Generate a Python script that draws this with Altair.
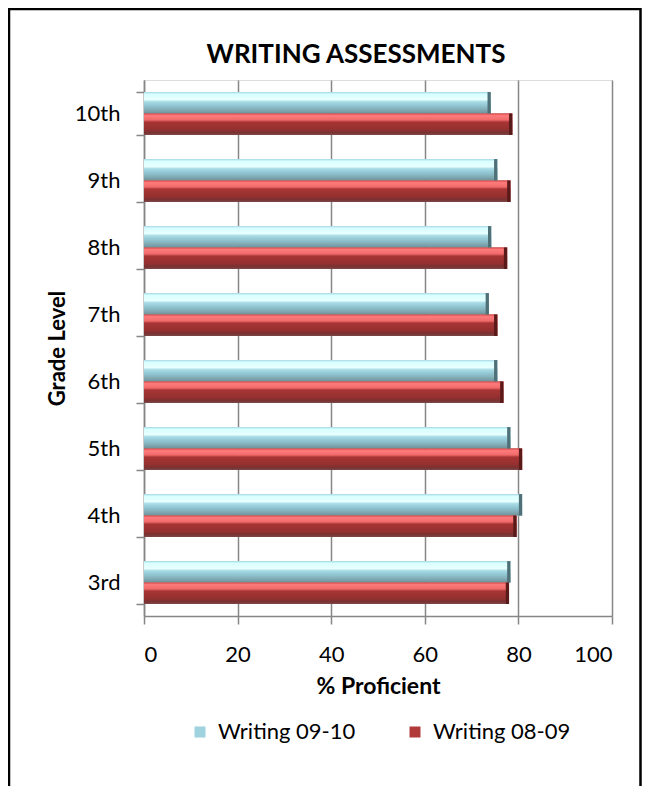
import altair as alt
import pandas as pd

grades = ["10th", "9th", "8th", "7th", "6th", "5th", "4th", "3rd"]
writing_0910 = [74.1, 75.5, 74.2, 73.7, 75.5, 78.3, 80.8, 78.3]
writing_0809 = [78.7, 78.3, 77.6, 75.5, 76.8, 80.8, 79.6, 78.0]
series = ["Writing 09-10", "Writing 08-09"]
x_ticks = [0, 20, 40, 60, 80, 100]
chart_title = "WRITING ASSESSMENTS"

rows = []
for g, a, b in zip(grades, writing_0910, writing_0809):
    rows.append({"grade": g, "series": series[0], "value": a})
    rows.append({"grade": g, "series": series[1], "value": b})
df = pd.DataFrame(rows)

FONT = "Lato"
GRID = "#868686"

blue_grad = alt.Gradient(
    gradient="linear", x1=0, x2=0, y1=0, y2=1,
    stops=[
        alt.GradientStop(offset=0, color="#a6d8e6"),
        alt.GradientStop(offset=0.1, color="#d8ffff"),
        alt.GradientStop(offset=0.35, color="#e8ffff"),
        alt.GradientStop(offset=0.45, color="#a8dce6"),
        alt.GradientStop(offset=0.65, color="#8fc4d0"),
        alt.GradientStop(offset=0.85, color="#7fa8b2"),
        alt.GradientStop(offset=1, color="#6f9098"),
    ],
)
red_grad = alt.Gradient(
    gradient="linear", x1=0, x2=0, y1=0, y2=1,
    stops=[
        alt.GradientStop(offset=0, color="#d84848"),
        alt.GradientStop(offset=0.1, color="#ff7b7b"),
        alt.GradientStop(offset=0.3, color="#f06a6a"),
        alt.GradientStop(offset=0.4, color="#a83434"),
        alt.GradientStop(offset=0.75, color="#943030"),
        alt.GradientStop(offset=0.88, color="#7a3030"),
        alt.GradientStop(offset=1, color="#7a4848"),
    ],
)

y_enc = alt.Y(
    "grade:N",
    sort=grades,
    scale=alt.Scale(paddingInner=0.36, paddingOuter=0.18),
    axis=alt.Axis(
        title="Grade Level",
        titleFont=FONT, titleFontSize=22, titleFontWeight="bold", titleColor="black",
        titlePadding=5,
        labelFont=FONT, labelFontSize=22, labelColor="black", labelPadding=16,
        tickBand="extent", tickColor=GRID, tickSize=8, tickWidth=1.5,
        domainColor=GRID, domainWidth=1.5, grid=False,
    ),
)
x_enc = alt.X(
    "value:Q",
    scale=alt.Scale(domain=[0, 100], nice=False),
    axis=alt.Axis(
        title="% Proficient", values=x_ticks,
        titleFont=FONT, titleFontSize=23, titleFontWeight="bold", titleColor="black",
        titlePadding=10,
        labelFont=FONT, labelFontSize=22, labelColor="black", labelPadding=20,
        tickColor=GRID, tickSize=8, tickWidth=1.5,
        domainColor=GRID, domainWidth=1.5,
        grid=True, gridColor=GRID, gridWidth=1.5,
    ),
)
yoff = alt.YOffset("series:N", sort=series, scale=alt.Scale(domain=series, paddingInner=0, paddingOuter=0))

base = alt.Chart(df).mark_bar().encode(
    x=x_enc, y=y_enc, yOffset=yoff,
    color=alt.Color(
        "series:N",
        scale=alt.Scale(domain=series, range=["#9fd3df", "#b03a3a"]),
        legend=alt.Legend(
            title=None, orient="none", direction="horizontal",
            legendX=45, legendY=641,
            symbolType="square", symbolSize=121, symbolStrokeWidth=0,
            labelFont=FONT, labelFontSize=22, labelColor="black",
            columnPadding=48, labelOffset=7,
        ),
    ),
)

blue = alt.Chart(df).transform_filter(alt.datum.series == series[0]).mark_bar(color=blue_grad).encode(
    x="value:Q", y=alt.Y("grade:N", sort=grades), yOffset=yoff)
red = alt.Chart(df).transform_filter(alt.datum.series == series[1]).mark_bar(color=red_grad).encode(
    x="value:Q", y=alt.Y("grade:N", sort=grades), yOffset=yoff)

cap_b = alt.Chart(df).transform_filter(alt.datum.series == series[0]).transform_calculate(
    xs="datum.value - 0.7").mark_bar(color="#4f7077").encode(
    x="xs:Q", x2="value:Q", y=alt.Y("grade:N", sort=grades), yOffset=yoff)
cap_r = alt.Chart(df).transform_filter(alt.datum.series == series[1]).transform_calculate(
    xs="datum.value - 0.7").mark_bar(color="#5a1a1a").encode(
    x="xs:Q", x2="value:Q", y=alt.Y("grade:N", sort=grades), yOffset=yoff)

title_mark = alt.Chart(alt.Data(values=[{"t": chart_title}])).mark_text(
    font=FONT, fontSize=26, fontWeight="bold", color="black",
    align="center", baseline="alphabetic").encode(
    text="t:N", x=alt.value(212), y=alt.value(-17))

border = alt.Chart(alt.Data(values=[{"a": 1}])).mark_rect(
    filled=False, stroke="black", strokeWidth=2.5).encode(
    x=alt.value(-135), x2=alt.value(496.5), y=alt.value(-71), y2=alt.value(740))

chart = alt.layer(base, blue, red, cap_b, cap_r, title_mark, border).properties(
    width=468, height=536,
    autosize=alt.AutoSizeParams(type="none"),
    padding={"left": 136, "top": 72, "right": 30, "bottom": 170},
).configure_view(stroke=None).configure(background="white")

chart.save("out.html", embed_options={"renderer": "svg", "actions": False})
